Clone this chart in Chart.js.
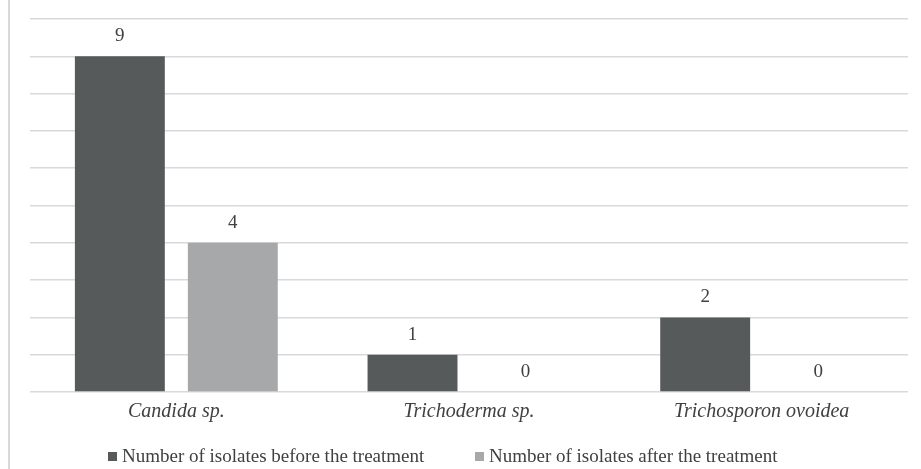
<!DOCTYPE html>
<html>
<head>
<meta charset="utf-8">
<script src="https://cdn.jsdelivr.net/npm/chart.js@4/dist/chart.umd.min.js"></script>
<style>
  html, body { margin: 0; padding: 0; background: #fff; }
  #wrap { position: relative; width: 921px; height: 469px; }
  #frame { position: absolute; left: 8px; top: 0; width: 2px; height: 469px; background: #d9d9d9; }
  canvas { position: absolute; left: 0; top: 0; }
</style>
</head>
<body>
<div id="wrap">
  <div id="frame"></div>
  <canvas id="c" width="921" height="469"></canvas>
</div>
<script>
const categories = ['Candida sp.', 'Trichoderma sp.', 'Trichosporon ovoidea'];
const beforeTreatment = [9, 1, 2];
const afterTreatment = [4, 0, 0];
const seriesNames = ['Number of isolates before the treatment', 'Number of isolates after the treatment'];

const serif = "'Liberation Serif', 'Times New Roman', serif";
const textColor = '#404040';

// value labels above each bar
const valueLabels = {
  id: 'valueLabels',
  afterDatasetsDraw(chart) {
    const ctx = chart.ctx;
    ctx.save();
    ctx.font = '19px ' + serif;
    ctx.fillStyle = textColor;
    ctx.textAlign = 'center';
    ctx.textBaseline = 'alphabetic';
    chart.data.datasets.forEach((ds, i) => {
      chart.getDatasetMeta(i).data.forEach((bar, j) => {
        ctx.fillText(String(ds.data[j]), bar.x, bar.y - 15);
      });
    });
    ctx.restore();
  }
};

// legend row under the axis labels
const legendRow = {
  id: 'legendRow',
  afterDraw(chart) {
    const ctx = chart.ctx;
    const starts = [108, 475];
    const y = 457;
    ctx.save();
    ctx.font = '19px ' + serif;
    ctx.textBaseline = 'middle';
    ctx.textAlign = 'left';
    chart.data.datasets.forEach((ds, i) => {
      const x = starts[i];
      ctx.fillStyle = ds.backgroundColor;
      ctx.fillRect(x, y - 5, 9, 9);
      ctx.fillStyle = textColor;
      ctx.fillText(ds.label, x + 14, y);
    });
    ctx.restore();
  }
};

new Chart(document.getElementById('c'), {
  type: 'bar',
  data: {
    labels: categories,
    datasets: [
      { label: seriesNames[0], data: beforeTreatment, backgroundColor: '#565a5b' },
      { label: seriesNames[1], data: afterTreatment, backgroundColor: '#a6a8a9' }
    ]
  },
  options: {
    responsive: false,
    animation: false,
    layout: { padding: { left: 30, right: 13, top: 19, bottom: 37 } },
    datasets: { bar: { categoryPercentage: 0.772, barPercentage: 0.796 } },
    plugins: {
      tooltip: { enabled: false },
      legend: { display: false }
    },
    scales: {
      x: {
        grid: { display: false, drawTicks: false },
        border: { display: false },
        ticks: {
          font: { family: serif, size: 20, style: 'italic' },
          color: textColor,
          padding: 8
        }
      },
      y: {
        min: 0,
        max: 10,
        ticks: { display: false, stepSize: 1 },
        border: { display: false },
        grid: { color: '#d9d9d9', lineWidth: 1.5, drawTicks: false },
        afterFit(scale) { scale.width = 0; }
      }
    }
  },
  plugins: [valueLabels, legendRow]
});
</script>
</body>
</html>
